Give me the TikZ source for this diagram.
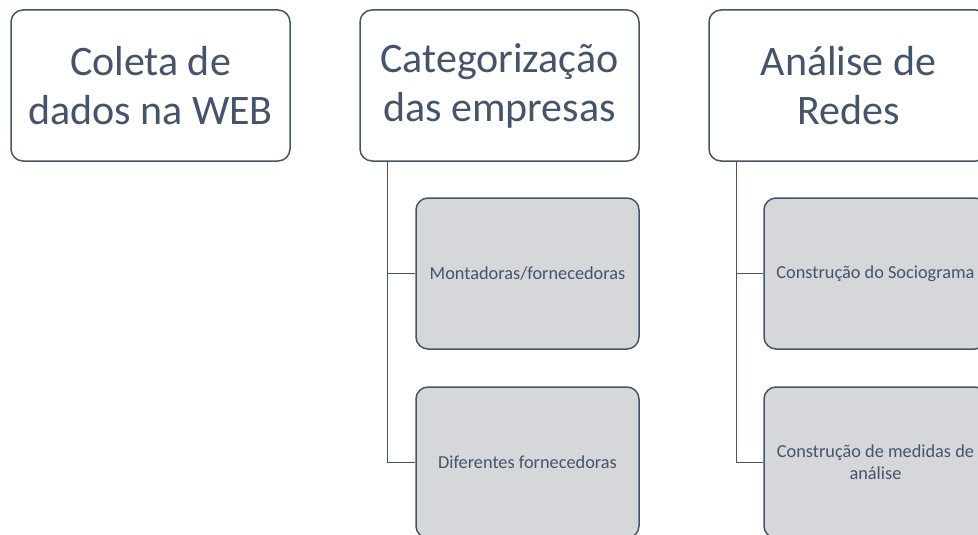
\documentclass[tikz,border=0pt]{standalone}
\usepackage{fontspec}
\setmainfont{Carlito}
\definecolor{slate}{HTML}{44546A}
\definecolor{lightfill}{HTML}{D5D7DA}
\tikzset{
  titlebox/.style={draw=slate, line width=1.5pt, fill=white, rounded corners=12pt,
    minimum width=279pt, minimum height=151pt, inner sep=0pt, align=center,
    text=slate, font=\fontsize{42}{49}\selectfont},
  subbox/.style={draw=slate, line width=1.5pt, fill=lightfill, rounded corners=12pt,
    minimum width=223pt, minimum height=151pt, inner sep=0pt, align=center,
    text=slate, font=\fontsize{18.3}{22}\selectfont},
  link/.style={draw=slate, line width=1.5pt}
}
\begin{document}
\begin{tikzpicture}[x=1pt,y=-1pt]
\useasboundingbox (0,0) rectangle (978,535);
\clip (0,0) rectangle (978,535);
\node[titlebox] (b1) at (150.5,85.5) {Coleta de\\dados na WEB};
\node[titlebox] (b2) at (499.5,85.5) {Categorização\\das empresas};
\node[titlebox] (b3) at (848.5,85.5) {Análise de\\Redes};
\node[subbox] (c21) at (527.5,273.5) {Montadoras/fornecedoras};
\node[subbox] (c22) at (527.5,462.5) {Diferentes fornecedoras};
\node[subbox] (c31) at (875.5,273.5) {Construção do Sociograma};
\node[subbox] (c32) at (875.5,462.5) {Construção de medidas de\\análise};
\draw[link] ([xshift=28pt]b2.south west) |- (c21.west);
\draw[link] ([xshift=28pt]b2.south west) |- (c22.west);
\draw[link] ([xshift=28pt]b3.south west) |- (c31.west);
\draw[link] ([xshift=28pt]b3.south west) |- (c32.west);
\end{tikzpicture}
\end{document}
